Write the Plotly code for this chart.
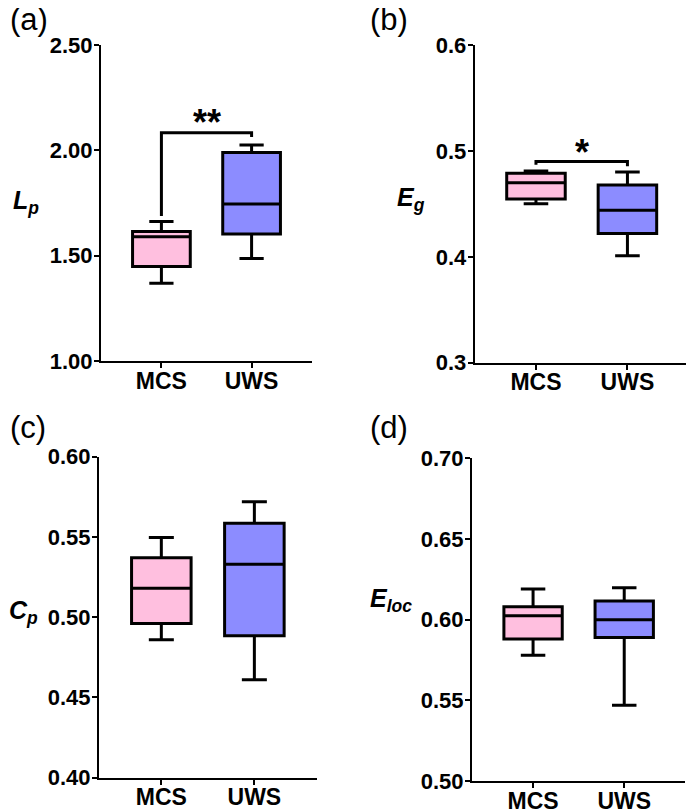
import plotly.graph_objects as go

groups = ["MCS", "UWS"]
fill_colors = ["#FFBFDF", "#8C8CFF"]

# (a) Lp
lp_lower = [1.369, 1.486]
lp_q1 = [1.448, 1.603]
lp_median = [1.590, 1.745]
lp_q3 = [1.615, 1.990]
lp_upper = [1.662, 2.025]

# (b) Eg
eg_lower = [0.450, 0.401]
eg_q1 = [0.4546, 0.422]
eg_median = [0.470, 0.444]
eg_q3 = [0.4788, 0.4678]
eg_upper = [0.481, 0.480]

# (c) Cp
cp_lower = [0.486, 0.461]
cp_q1 = [0.496, 0.4885]
cp_median = [0.518, 0.533]
cp_q3 = [0.537, 0.5585]
cp_upper = [0.5496, 0.572]

# (d) Eloc
eloc_lower = [0.578, 0.547]
eloc_q1 = [0.588, 0.589]
eloc_median = [0.6024, 0.600]
eloc_q3 = [0.608, 0.6115]
eloc_upper = [0.619, 0.6198]

# y ticks
lp_ticks = [1.00, 1.50, 2.00, 2.50]
eg_ticks = [0.3, 0.4, 0.5, 0.6]
cp_ticks = [0.40, 0.45, 0.50, 0.55, 0.60]
eloc_ticks = [0.50, 0.55, 0.60, 0.65, 0.70]

# significance brackets: (left end, top, right end, star level)
lp_bracket = [1.688, 2.084, 2.063, 2.130]
eg_bracket = [0.487, 0.490, 0.4855, 0.4985]
lp_star = "**"
eg_star = "*"

# the page places the figure 8 px in from the top-left corner
OFF = 8
W, H = 694 - OFF, 812 - OFF
FONT = "Liberation Sans, Arial, sans-serif"


def fx(v):
    return (v - OFF) / W


def fy(v):
    return 1 - (v - OFF) / H


panels = [
    dict(name="(a)", title="<b><i>L<sub>p</sub></i></b>",
         data=(lp_lower, lp_q1, lp_median, lp_q3, lp_upper), ticks=lp_ticks, fmt=".2f",
         px=(101, 312), py=(45, 361), title_xy=(26, 202), label_xy=(8, 19)),
    dict(name="(b)", title="<b><i>E<sub>g</sub></i></b>",
         data=(eg_lower, eg_q1, eg_median, eg_q3, eg_upper), ticks=eg_ticks, fmt=".1f",
         px=(474.7, 688.7), py=(45, 362.7), title_xy=(411, 199), label_xy=(368, 19)),
    dict(name="(c)", title="<b><i>C<sub>p</sub></i></b>",
         data=(cp_lower, cp_q1, cp_median, cp_q3, cp_upper), ticks=cp_ticks, fmt=".2f",
         px=(99, 316.7), py=(456.7, 777.7), title_xy=(23, 612), label_xy=(8, 428)),
    dict(name="(d)", title="<b><i>E<sub>loc</sub></i></b>",
         data=(eloc_lower, eloc_q1, eloc_median, eloc_q3, eloc_upper), ticks=eloc_ticks, fmt=".2f",
         px=(472, 685.3), py=(458.3, 781), title_xy=(391, 600), label_xy=(368, 428)),
]

fig = go.Figure()
annotations = []
shapes = []
layout = {}

for i, p in enumerate(panels):
    n = "" if i == 0 else str(i + 1)
    xa, ya = "x" + n, "y" + n
    lo, q1, med, q3, hi = p["data"]
    for g, col, a, b, c, d, e in zip(groups, fill_colors, lo, q1, med, q3, hi):
        fig.add_trace(go.Box(
            x=[g], lowerfence=[a], q1=[b], median=[c], q3=[d], upperfence=[e],
            fillcolor=col, line=dict(color="black", width=3),
            width=0.64, whiskerwidth=0.42, boxpoints=False,
            xaxis=xa, yaxis=ya, showlegend=False, hoverinfo="skip"))
    x0, x1 = p["px"]
    y0, y1 = p["py"]
    layout["xaxis" + n] = dict(
        domain=[fx(x0), fx(x1)], anchor=ya, type="category", automargin=False,
        categoryorder="array", categoryarray=groups, range=[-0.67, 1.67],
        showline=True, linecolor="black", linewidth=2, ticks="outside",
        ticklen=5, tickwidth=2, tickcolor="black", showgrid=False, zeroline=False,
        ticklabelstandoff=-7,
        tickfont=dict(family=FONT, size=23, color="black", weight="bold"))
    layout["yaxis" + n] = dict(
        domain=[fy(y1), fy(y0)], anchor=xa, automargin=False,
        range=[p["ticks"][0], p["ticks"][-1]], tickvals=p["ticks"], tickformat=p["fmt"],
        showline=True, linecolor="black", linewidth=2, ticks="outside",
        ticklen=5, tickwidth=2, tickcolor="black", showgrid=False, zeroline=False,
        ticklabelstandoff=-3,
        tickfont=dict(family=FONT, size=22, color="black", weight="bold"))
    tx, ty = p["title_xy"]
    annotations.append(dict(text=p["title"], x=fx(tx), y=fy(ty), xref="paper", yref="paper",
                            showarrow=False, xanchor="center", yanchor="middle",
                            font=dict(family=FONT, size=25, color="black")))
    lx, ly = p["label_xy"]
    annotations.append(dict(text=p["name"], x=fx(lx), y=fy(ly), xref="paper", yref="paper",
                            showarrow=False, xanchor="left", yanchor="middle",
                            font=dict(family=FONT, size=31, color="black")))

for n, br, star in [("", lp_bracket, lp_star), ("2", eg_bracket, eg_star)]:
    left, top, right, slev = br
    shapes.append(dict(type="path", xref="x" + n, yref="y" + n,
                       path=f"M 0,{left} L 0,{top} L 1,{top} L 1,{right}",
                       line=dict(color="black", width=3)))
    annotations.append(dict(text="<b>" + star + "</b>", x=0.5, y=slev, xref="x" + n, yref="y" + n,
                            showarrow=False, xanchor="center", yanchor="middle",
                            font=dict(family=FONT, size=36, color="black")))

fig.update_layout(
    width=W, height=H, margin=dict(l=0, r=0, t=0, b=0, autoexpand=False),
    paper_bgcolor="white", plot_bgcolor="white", boxmode="overlay",
    annotations=annotations, shapes=shapes, **layout)

fig.write_html("out.html")
